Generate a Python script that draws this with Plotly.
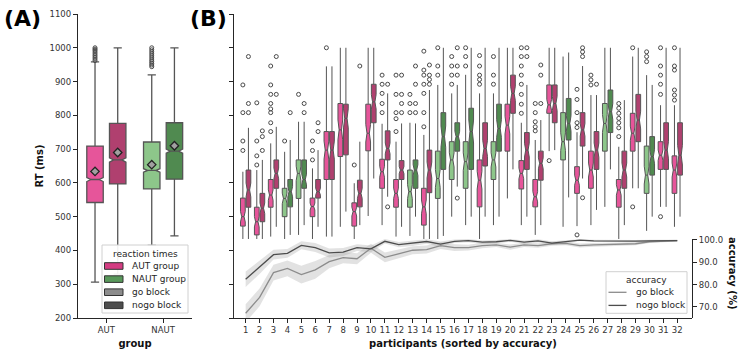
import plotly.graph_objects as go
import numpy as np

# ---------------- data ----------------
# Panel A: reaction times per group (go / nogo block)
A_groups = ["AUT", "NAUT"]
A_go_q1 = [542, 582]
A_go_med = [610, 637]
A_go_q3 = [709, 721]
A_go_lo = [306, 415]
A_go_hi = [958, 920]
A_go_mean = [634, 654]
A_nogo_q1 = [597, 611]
A_nogo_med = [668, 694]
A_nogo_q3 = [776, 778]
A_nogo_lo = [330, 443]
A_nogo_hi = [1000, 1000]
A_nogo_mean = [690, 710]
A_go_out = [[962, 967, 972, 977, 982, 987, 992, 996, 1000],
            [944, 949, 954, 959, 964, 970, 976, 982, 988, 994, 1000]]
A_nogo_out = [[], []]

# Panel B: per participant
participants = list(range(1, 33))
group = ["AUT", "AUT", "AUT", "NAUT", "NAUT", "AUT", "AUT", "AUT", "AUT", "AUT",
         "AUT", "AUT", "NAUT", "AUT", "NAUT", "NAUT", "NAUT", "AUT", "NAUT", "AUT",
         "AUT", "AUT", "AUT", "NAUT", "AUT", "AUT", "NAUT", "AUT", "AUT", "NAUT",
         "AUT", "AUT"]

go_q1 = [472, 446, 528, 500, 554, 500, 610, 678, 472, 695, 584, 528, 528, 475, 554, 610,
         584, 529, 610, 694, 582, 529, 806, 668, 569, 584, 694, 528, 694, 569, 640, 569]
go_med = [500, 485, 564, 554, 628, 530, 697, 757, 515, 747, 633, 569, 574, 529, 613, 668,
          663, 608, 668, 771, 628, 559, 831, 722, 608, 638, 776, 579, 747, 623, 682, 638]
go_q3 = [555, 528, 610, 584, 668, 555, 752, 835, 541, 833, 670, 610, 638, 584, 694, 722,
         722, 668, 722, 833, 666, 610, 890, 808, 648, 694, 835, 610, 806, 709, 722, 680]
go_lo = [360, 389, 441, 419, 446, 419, 441, 470, 419, 502, 475, 441, 443, 391, 419, 500,
         475, 421, 475, 554, 475, 446, 694, 470, 472, 475, 529, 416, 584, 458, 529, 470]
go_hi = [633, 638, 717, 692, 781, 643, 945, 1000, 599, 1000, 775, 722, 778, 742, 890, 865,
         920, 865, 865, 1000, 778, 727, 1000, 974, 750, 860, 1000, 707, 974, 919, 830, 830]

nogo_q1 = [528, 485, 584, 529, 584, 555, 610, 683, 529, 778, 668, 610, 584, 571, 640, 694,
           640, 650, 694, 806, 640, 608, 778, 727, 709, 640, 749, 584, 722, 623, 640, 623]
nogo_med = [579, 525, 628, 574, 610, 574, 697, 791, 569, 840, 702, 638, 638, 638, 737, 737,
            752, 702, 761, 865, 697, 658, 835, 776, 757, 697, 811, 638, 786, 678, 697, 682]
nogo_q3 = [638, 569, 668, 610, 668, 610, 752, 833, 608, 892, 754, 666, 668, 697, 808, 778,
           821, 778, 833, 919, 749, 694, 890, 850, 808, 752, 875, 694, 862, 737, 778, 778]
nogo_lo = [391, 431, 470, 446, 475, 470, 441, 515, 475, 613, 559, 470, 500, 419, 443, 589,
           500, 500, 500, 640, 500, 475, 697, 557, 613, 520, 640, 475, 584, 500, 529, 500]
nogo_hi = [763, 668, 766, 727, 781, 697, 945, 1000, 722, 1000, 865, 776, 776, 875, 1000, 890,
           1000, 1000, 1000, 1000, 890, 786, 1000, 986, 946, 860, 1000, 845, 1000, 890, 1000, 1000]

go_out = [[890, 808, 724, 696, 332], [837, 724, 680, 653], [946, 890, 862, 835, 819, 808, 778, 752],
          [724], [862], [724, 696, 668, 389, 305], [1000], [], [653], [],
          [919, 892, 865, 835, 808], [919, 862, 808, 790, 752], [862, 835, 808],
          [990, 934, 919, 892, 865, 808, 766], [1000, 946, 919], [974, 946, 919, 892],
          [1000, 974, 946], [977, 946, 919, 906, 892], [974, 919, 892], [],
          [1000, 974, 946, 919, 892, 862, 833, 806], [835, 808, 781, 766, 754], [666], [],
          [877, 847, 808, 778, 764, 446], [919, 905, 890], [], [835, 821, 806, 791, 778, 763, 737],
          [1000, 529], [988, 974, 959], [1000, 946, 919, 892, 862, 500], [1000, 946, 934, 875, 860, 845]]
nogo_out = [[974, 835, 808], [754, 737, 696], [974, 862], [808], [835, 808], [778, 752], [], [],
            [946], [], [892, 529], [919, 862, 835, 808], [946, 892, 835, 808], [949, 919, 906, 892],
            [], [1000, 946, 919, 555], [], [], [], [], [1000, 974], [949, 919, 835], [], [],
            [1000, 988, 974, 556], [892], [], [], [], [], [], []]

# accuracy (%) per participant, with CI half widths
acc_go = [67.2, 74.3, 85.4, 87.3, 84.5, 86.6, 90.3, 92.1, 91.6, 96.3, 92.2, 93.7, 95.4, 95.7,
          97.5, 96.6, 96.6, 97.5, 97.8, 96.8, 97.8, 97.5, 98.3, 98.5, 97.5, 97.8, 98.0, 98.2,
          98.3, 99.2, 99.5, 99.7]
acc_nogo = [82.4, 87.8, 93.4, 94.0, 97.6, 96.6, 94.2, 94.6, 96.6, 96.0, 99.4, 97.9, 98.5, 99.3,
            98.1, 99.4, 99.7, 99.0, 99.2, 99.8, 99.0, 99.6, 98.6, 99.3, 99.9, 99.6, 99.5, 99.6,
            99.5, 99.6, 99.6, 99.7]
acc_go_ci = [4.0, 4.0, 3.5, 3.5, 4.0, 4.0, 3.0, 2.5, 2.5, 2.0, 2.2, 2.0, 1.8, 1.8, 1.5, 1.5,
             1.3, 1.2, 1.0, 1.2, 1.0, 1.0, 0.9, 0.9, 0.9, 0.8, 0.8, 0.7, 0.7, 0.6, 0.5, 0.4]
acc_nogo_ci = [3.5, 3.0, 2.2, 2.0, 1.8, 2.0, 2.0, 1.8, 1.5, 1.5, 1.0, 1.2, 1.2, 1.0, 1.2, 0.8,
               0.7, 0.8, 0.8, 0.6, 0.8, 0.7, 0.8, 0.6, 0.4, 0.5, 0.5, 0.5, 0.5, 0.5, 0.5, 0.4]

N_TRIALS_A = 1900
N_TRIALS_B = 70

legend_rt_title = "reaction times"
legend_rt_names = ["AUT group", "NAUT group", "go block", "nogo block"]
legend_acc_title = "accuracy"
legend_acc_names = ["go block", "nogo block"]

# ---------------- style ----------------
FONT = "DejaVu Sans"
COL = {("AUT", "go"): "#e6559a", ("AUT", "nogo"): "#b0406f",
       ("NAUT", "go"): "#8dc68a", ("NAUT", "nogo"): "#508a50"}
LEG_COL = ["#d43c82", "#58985a", "#8c8c8c", "#4d4d4d"]
ACC_COL = ["#8c8c8c", "#4d4d4d"]
EDGE = "#555555"
AX = "#262626"
OFF = {"go": -0.2, "nogo": 0.2}

W, H = 740, 351
ML, MR, MT, MB = 78, 48, 14, 33
PW, PH = W - ML - MR, H - MT - MB


def px(x):
    return (x - ML) / PW


def py(y):
    return (H - MB - y) / PH


fig = go.Figure()

# ---------------- panel A ----------------
A_stats = {"go": (A_go_q1, A_go_med, A_go_q3, A_go_lo, A_go_hi, A_go_mean, A_go_out),
           "nogo": (A_nogo_q1, A_nogo_med, A_nogo_q3, A_nogo_lo, A_nogo_hi, A_nogo_mean, A_nogo_out)}
for gi, g in enumerate(A_groups):
    for blk in ["go", "nogo"]:
        q1, med, q3, lo, hi, mean, outs = A_stats[blk]
        pos = gi + OFF[blk]
        iqr = q3[gi] - q1[gi]
        fig.add_trace(go.Box(
            x=[pos], q1=[q1[gi]], median=[med[gi]], q3=[q3[gi]],
            lowerfence=[lo[gi]], upperfence=[hi[gi]],
            notched=True, notchspan=[1.57 * iqr / np.sqrt(N_TRIALS_A)], notchwidth=0.25,
            width=0.29, whiskerwidth=0.5, boxpoints=False,
            fillcolor=COL[(g, blk)], line=dict(color=EDGE, width=1.3),
            xaxis="x", yaxis="y", showlegend=False, hoverinfo="skip"))
        if outs[gi]:
            fig.add_trace(go.Scatter(
                x=[pos] * len(outs[gi]), y=outs[gi], mode="markers",
                marker=dict(symbol="circle-open", size=4, color="#4a4a4a", line=dict(width=1)),
                xaxis="x", yaxis="y", showlegend=False, hoverinfo="skip"))
        fig.add_trace(go.Scatter(
            x=[pos], y=[mean[gi]], mode="markers",
            marker=dict(symbol="diamond", size=6.5, color="#a0a0a0", line=dict(color="#222222", width=1.3)),
            xaxis="x", yaxis="y", showlegend=False, hoverinfo="skip"))

# ---------------- panel B ----------------
B_stats = {"go": (go_q1, go_med, go_q3, go_lo, go_hi, go_out),
           "nogo": (nogo_q1, nogo_med, nogo_q3, nogo_lo, nogo_hi, nogo_out)}
for g in ["AUT", "NAUT"]:
    idx = [i for i, gg in enumerate(group) if gg == g]
    for blk in ["go", "nogo"]:
        q1, med, q3, lo, hi, outs = B_stats[blk]
        fig.add_trace(go.Box(
            x=[participants[i] + OFF[blk] for i in idx],
            q1=[q1[i] for i in idx], median=[med[i] for i in idx], q3=[q3[i] for i in idx],
            lowerfence=[lo[i] for i in idx], upperfence=[hi[i] for i in idx],
            notched=True, notchspan=[1.57 * (q3[i] - q1[i]) / np.sqrt(N_TRIALS_B) for i in idx],
            notchwidth=0.25, width=0.34, whiskerwidth=0, boxpoints=False,
            fillcolor=COL[(g, blk)], line=dict(color=EDGE, width=1),
            xaxis="x2", yaxis="y2", showlegend=False, hoverinfo="skip"))

ox, oy = [], []
for blk in ["go", "nogo"]:
    outs = B_stats[blk][5]
    for i, p in enumerate(participants):
        for v in outs[i]:
            ox.append(p + OFF[blk])
            oy.append(v)
fig.add_trace(go.Scatter(
    x=ox, y=oy, mode="markers",
    marker=dict(symbol="circle-open", size=4, color="#4a4a4a", line=dict(width=1)),
    xaxis="x2", yaxis="y2", showlegend=False, hoverinfo="skip"))

# accuracy lines with CI bands
for name, acc, ci, lc in [("go block", acc_go, acc_go_ci, ACC_COL[0]),
                          ("nogo block", acc_nogo, acc_nogo_ci, ACC_COL[1])]:
    up = [a + c for a, c in zip(acc, ci)]
    dn = [a - c for a, c in zip(acc, ci)]
    fig.add_trace(go.Scatter(
        x=participants + participants[::-1], y=up + dn[::-1], fill="toself",
        fillcolor="rgba(150,150,150,0.28)", line=dict(width=0), mode="lines",
        xaxis="x2", yaxis="y3", showlegend=False, hoverinfo="skip"))
    fig.add_trace(go.Scatter(
        x=participants, y=acc, mode="lines", line=dict(color=lc, width=1.3),
        name=name, xaxis="x2", yaxis="y3", showlegend=False, hoverinfo="skip"))

# ---------------- legends (drawn) ----------------
shapes, annotations = [], []
legfont = dict(family=FONT, size=9, color="#262626")

# reaction-times legend
shapes.append(dict(type="rect", xref="paper", yref="paper", layer="above",
                   x0=px(102), x1=px(188), y0=py(313), y1=py(245),
                   fillcolor="rgba(255,255,255,0.92)", line=dict(color="#d0d0d0", width=1)))
annotations.append(dict(text=legend_rt_title, x=px(145), y=py(253.5), xref="paper", yref="paper",
                        showarrow=False, font=legfont, xanchor="center", yanchor="middle"))
for k, (nm, c) in enumerate(zip(legend_rt_names, LEG_COL)):
    yc = 266 + k * 13.1
    shapes.append(dict(type="rect", xref="paper", yref="paper", layer="above",
                       x0=px(104.5), x1=px(123), y0=py(yc + 3.3), y1=py(yc - 3.3),
                       fillcolor=c, line=dict(color="#333333", width=1)))
    annotations.append(dict(text=nm, x=px(130), y=py(yc), xref="paper", yref="paper",
                            showarrow=False, font=legfont, xanchor="left", yanchor="middle"))

# accuracy legend
shapes.append(dict(type="rect", xref="paper", yref="paper", layer="above",
                   x0=px(606), x1=px(687), y0=py(313.3), y1=py(271.7),
                   fillcolor="rgba(255,255,255,0.92)", line=dict(color="#d0d0d0", width=1)))
annotations.append(dict(text=legend_acc_title, x=px(646.5), y=py(279.5), xref="paper", yref="paper",
                        showarrow=False, font=legfont, xanchor="center", yanchor="middle"))
for k, (nm, c) in enumerate(zip(legend_acc_names, ACC_COL)):
    yc = 292.3 + k * 13.1
    shapes.append(dict(type="line", xref="paper", yref="paper", layer="above",
                       x0=px(608.5), x1=px(626.5), y0=py(yc), y1=py(yc),
                       line=dict(color=c, width=1.3)))
    annotations.append(dict(text=nm, x=px(634), y=py(yc), xref="paper", yref="paper",
                            showarrow=False, font=legfont, xanchor="left", yanchor="middle"))

# panel labels and right axis title
annotations += [
    dict(text="<b>(A)</b>", x=px(22), y=py(18), xref="paper", yref="paper",
         showarrow=False, font=dict(family=FONT, size=22, color="black"),
         xanchor="center", yanchor="middle"),
    dict(text="<b>(B)</b>", x=px(208), y=py(18), xref="paper", yref="paper",
         showarrow=False, font=dict(family=FONT, size=22, color="black"),
         xanchor="center", yanchor="middle"),
    dict(text="<b>accuracy (%)</b>", x=px(733), y=py(273), xref="paper", yref="paper",
         showarrow=False, textangle=90, font=dict(family=FONT, size=10, color="#111111"),
         xanchor="center", yanchor="middle"),
]

# ---------------- layout ----------------
tickfont = dict(family=FONT, size=8.5, color="#333333")
titlefont = dict(family=FONT, size=10, color="#111111")
axis_common = dict(showline=True, linecolor=AX, linewidth=1.2, ticks="outside",
                   ticklen=4, tickcolor=AX, tickwidth=1.1, showgrid=False, zeroline=False,
                   tickfont=tickfont, automargin=False)
rt_ticks = list(range(200, 1101, 100))

fig.update_layout(
    width=W, height=H,
    margin=dict(l=ML, r=MR, t=MT, b=MB, autoexpand=False),
    paper_bgcolor="white", plot_bgcolor="white",
    font=dict(family=FONT, color="#222222"),
    showlegend=False,
    xaxis=dict(domain=[0, 0.1857], range=[-0.5, 1.51], tickvals=[0, 1], ticktext=A_groups,
               anchor="y", title=dict(text="<b>group</b>", font=titlefont, standoff=5),
               **axis_common),
    yaxis=dict(domain=[0, 1], range=[200, 1100], tickvals=rt_ticks, anchor="x",
               title=dict(text="<b>RT (ms)</b>", font=titlefont, standoff=4), **axis_common),
    xaxis2=dict(domain=[0.254, 1], range=[0.16, 33.06], tickvals=participants, anchor="y2",
                title=dict(text="<b>participants (sorted by accuracy)</b>", font=titlefont, standoff=5),
                **axis_common),
    yaxis2=dict(domain=[0, 1], range=[200, 1100], tickvals=rt_ticks, anchor="x2",
                showticklabels=False, **axis_common),
    yaxis3=dict(domain=[0, 0.26], range=[65.07, 100.45], tickvals=[70, 80, 90, 100],
                ticktext=["70.0", "80.0", "90.0", "100.0"], anchor="x2", side="right",
                **axis_common),
    shapes=shapes,
    annotations=annotations,
)

fig.write_html("out.html")
